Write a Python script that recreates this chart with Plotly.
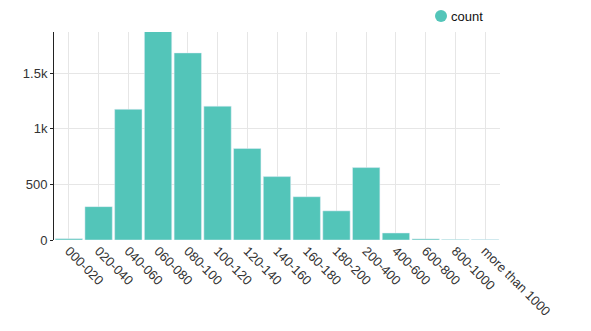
import plotly.graph_objects as go

categories = ["000-020", "020-040", "040-060", "060-080", "080-100", "100-120",
              "120-140", "140-160", "160-180", "180-200", "200-400", "400-600",
              "600-800", "800-1000", "more than 1000"]
counts = [12, 300, 1175, 1880, 1682, 1203, 823, 570, 389, 262, 651, 63, 10, 5, 4]
series_name = "count"

color = "#53c5b9"

fig = go.Figure()
fig.add_trace(go.Bar(x=categories, y=counts, marker_color=color, showlegend=False, name=series_name))

# legend-like marker + label
fig.add_shape(type="circle", xref="paper", yref="paper",
              x0=(435 - 54) / 446, x1=(447 - 54) / 446,
              y0=(240 - 22) / 208, y1=(240 - 10) / 208,
              fillcolor=color, line=dict(width=0))
fig.add_annotation(text=series_name, xref="paper", yref="paper",
                   x=(449 - 54) / 446, y=(240 - 16) / 208, xanchor="left", yanchor="middle",
                   showarrow=False, font=dict(size=13, color="#111"))

fig.update_layout(
    width=591, height=331,
    margin=dict(l=54, r=91, t=32, b=91, autoexpand=False),
    paper_bgcolor="white", plot_bgcolor="white",
    bargap=0.08,
    showlegend=False,
    font=dict(family="Liberation Sans, Arial, sans-serif", size=13, color="#333"),
    xaxis=dict(type="category", tickangle=45, showgrid=True, gridcolor="#e6e6e6",
               showline=False, ticks="", tickfont=dict(size=13, color="#333"),
               automargin=False),
    yaxis=dict(range=[0, 1870], showgrid=True, gridcolor="#e6e6e6",
               showline=True, linecolor="#222", linewidth=1,
               ticks="outside", ticklen=3, tickcolor="#222",
               tickvals=[0, 500, 1000, 1500], ticktext=["0", "500", "1k", "1.5k"],
               zeroline=False, tickfont=dict(size=13, color="#333"), automargin=False),
)

fig.write_html("out.html")
